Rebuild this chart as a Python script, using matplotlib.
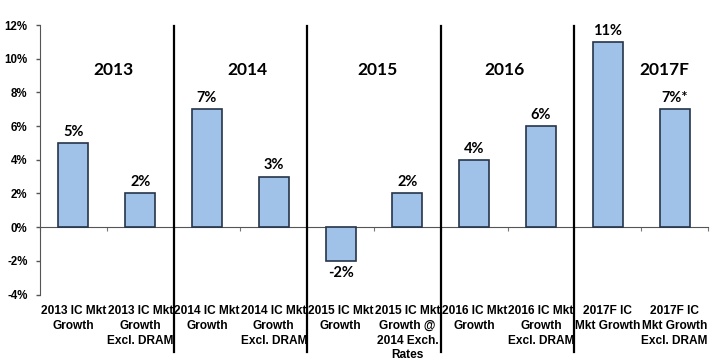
import numpy as np
import matplotlib
matplotlib.use('Agg')
import matplotlib.pyplot as plt
import matplotlib.transforms as mtransforms

categories = ['2013 IC Mkt\nGrowth', '2013 IC Mkt\nGrowth\nExcl. DRAM',
              '2014 IC Mkt\nGrowth', '2014 IC Mkt\nGrowth\nExcl. DRAM',
              '2015 IC Mkt\nGrowth', '2015 IC Mkt\nGrowth @\n2014 Exch.\nRates',
              '2016 IC Mkt\nGrowth', '2016 IC Mkt\nGrowth\nExcl. DRAM',
              '2017F IC\nMkt Growth', '2017F IC\nMkt Growth\nExcl. DRAM']
growth = [5, 2, 7, 3, -2, 2, 4, 6, 11, 7]
value_labels = ['5%', '2%', '7%', '3%', '-2%', '2%', '4%', '6%', '11%', '7%*']
years = ['2013', '2014', '2015', '2016', '2017F']
year_x = [0.6, 2.6, 4.55, 6.45, 8.85]

fig = plt.figure(figsize=(7.23, 3.62), dpi=100)
ax = fig.add_axes([40/723, 1-294.5/362, (708-40)/723, (294.5-25)/362])

x = np.arange(len(growth))
ax.bar(x, growth, width=0.45, color='#a0c1e8', edgecolor='#26354a', linewidth=1.2, zorder=3)

ax.set_xlim(-0.5, len(growth)-0.5)
ax.set_ylim(-4, 12)
ax.set_yticks(np.arange(-4, 13, 2))
ax.set_yticklabels([f'{v}%' for v in range(-4, 13, 2)], fontsize=8.3,
                   fontweight='bold', family='Liberation Sans')
ax.tick_params(axis='y', length=3, width=1, color='#555555', pad=6)

for s in ['top', 'right']:
    ax.spines[s].set_visible(False)
ax.spines['left'].set_color('#555555')
ax.spines['bottom'].set_position(('data', 0))
ax.spines['bottom'].set_color('#555555')
ax.set_xticks(np.arange(-0.5, len(growth), 1))
ax.set_xticklabels([])
ax.tick_params(axis='x', length=3, color='#777777')

# value labels
for xi, v, lab in zip(x, growth, value_labels):
    if v >= 0:
        ax.text(xi, v + 0.25, lab, ha='center', va='bottom', fontsize=10.5,
                fontweight='bold', family='Lato')
    else:
        ax.text(xi, v - 0.3, lab, ha='center', va='top', fontsize=10.5,
                fontweight='bold', family='Lato')

# year headings
for yx, yr in zip(year_x, years):
    ax.text(yx, 9.35, yr, ha='center', va='center', fontsize=12.5,
            fontweight='bold', family='Lato')

# group separators
for sx in [1.5, 3.5, 5.5, 7.5]:
    ax.axvline(sx, ymin=-0.213, ymax=0.995, color='black', lw=1.6, clip_on=False, zorder=4)

# category labels under the plot
trans = mtransforms.blended_transform_factory(ax.transData, ax.transAxes)
for xi, c in zip(x, categories):
    ax.text(xi, -0.04, c, transform=trans, ha='center', va='top', fontsize=8.6,
            fontweight='bold', family='Liberation Sans', linespacing=1.3)

fig.savefig('out.png', dpi=100)
